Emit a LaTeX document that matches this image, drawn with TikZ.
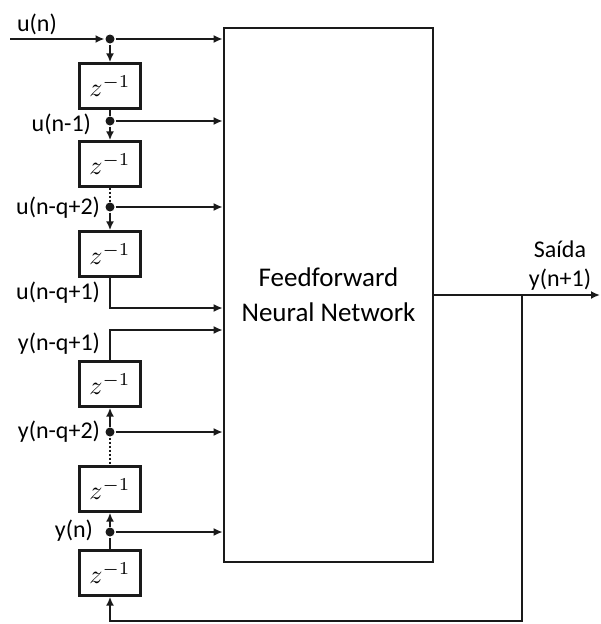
\documentclass[tikz,border=0pt]{standalone}
\usepackage{fontspec}
\setmainfont{Carlito}
\usepackage{xcolor}
\usepackage{tikz}
\usetikzlibrary{positioning, arrows.meta}
\definecolor{linegray}{HTML}{1A1A1A}
\newcommand{\zinv}{\scalebox{2.6}{$z^{-1}$}}

\begin{document}
\begin{tikzpicture}[x=1pt, y=-1pt, line width=2pt, draw=linegray,
    delay/.style={draw, line width=2.4pt, minimum width=61pt, minimum height=45pt, inner sep=0pt},
    netbox/.style={draw, line width=2.6pt, minimum width=209pt, minimum height=534pt, align=center,
                   font=\fontsize{27}{35}\selectfont},
    lbl/.style={inner sep=0pt, font=\fontsize{24}{28}\selectfont},
    dot/.style={circle, fill=linegray, inner sep=0pt, minimum size=9pt},
    arr/.style={-{Latex[length=9pt, width=8pt]}}]
    \useasboundingbox (0,0) rectangle (600,624);

    % network and delay line
    \node[netbox] (nn) at (328.5,295) {Feedforward\\Neural Network};
    \node[delay] (d1) at (110,86) {\zinv};
    \node[delay] (d2) at (110,164) {\zinv};
    \node[delay] (d3) at (110,254) {\zinv};
    \node[delay] (d4) at (110,384) {\zinv};
    \node[delay] (d5) at (110,489) {\zinv};
    \node[delay] (d6) at (110,573) {\zinv};

    \node[dot] (j0) at (110,39) {};
    \node[dot] (j1) at (110,121) {};
    \node[dot] (j2) at (110,207) {};
    \node[dot] (j4) at (110,432) {};
    \node[dot] (j5) at (110,532) {};

    \coordinate (in) at (10,39);
    \coordinate (c3) at (110,308);
    \coordinate (c4) at (110,330);
    \coordinate (out) at (600,295);
    \coordinate (fb) at (522,295);
    \coordinate (fbb) at (522,621);
    \coordinate (fbl) at (110,621);

    % input branch
    \draw[arr] (in) -- (j0.west);
    \draw[arr] (j0) -- (nn.west |- j0);
    \draw[arr] (j0) -- (d1.north);
    \draw (d1.south) -- (j1);
    \draw[arr] (j1) -- (nn.west |- j1);
    \draw[arr] (j1) -- (d2.north);
    \draw[dotted] (d2.south) -- (j2);
    \draw[arr] (j2) -- (nn.west |- j2);
    \draw[arr] (j2) -- (d3.north);
    \draw[arr] (d3.south) -- (c3) -- (nn.west |- c3);

    % output feedback branch
    \draw[arr] (d4.north) -- (c4) -- (nn.west |- c4);
    \draw[arr] (j4) -- (d4.south);
    \draw[arr] (j4) -- (nn.west |- j4);
    \draw[dotted] (j4) -- (d5.north);
    \draw[arr] (j5) -- (d5.south);
    \draw[arr] (j5) -- (nn.west |- j5);
    \draw (d6.north) -- (j5);
    \draw[arr] (nn.east |- out) -- (out);
    \draw[arr] (fb) -- (fbb) -- (fbl) -- (d6.south);

    % labels
    \node[lbl, anchor=center] (lu0) at (37,24) {u(n)};
    \node[lbl, anchor=east] (lu1) at (92,124) {u(n-1)};
    \node[lbl, anchor=east] (lu2) at (101,208) {u(n-q+2)};
    \node[lbl, anchor=east] (lu3) at (101,293) {u(n-q+1)};
    \node[lbl, anchor=east] (ly3) at (101,344) {y(n-q+1)};
    \node[lbl, anchor=east] (ly2) at (101,432) {y(n-q+2)};
    \node[lbl, anchor=east] (ly0) at (94,531) {y(n)};
    \node[lbl] (lsai) at (560,249) {Saída};
    \node[lbl] (lyn) at (560,280) {y(n+1)};
\end{tikzpicture}
\end{document}
